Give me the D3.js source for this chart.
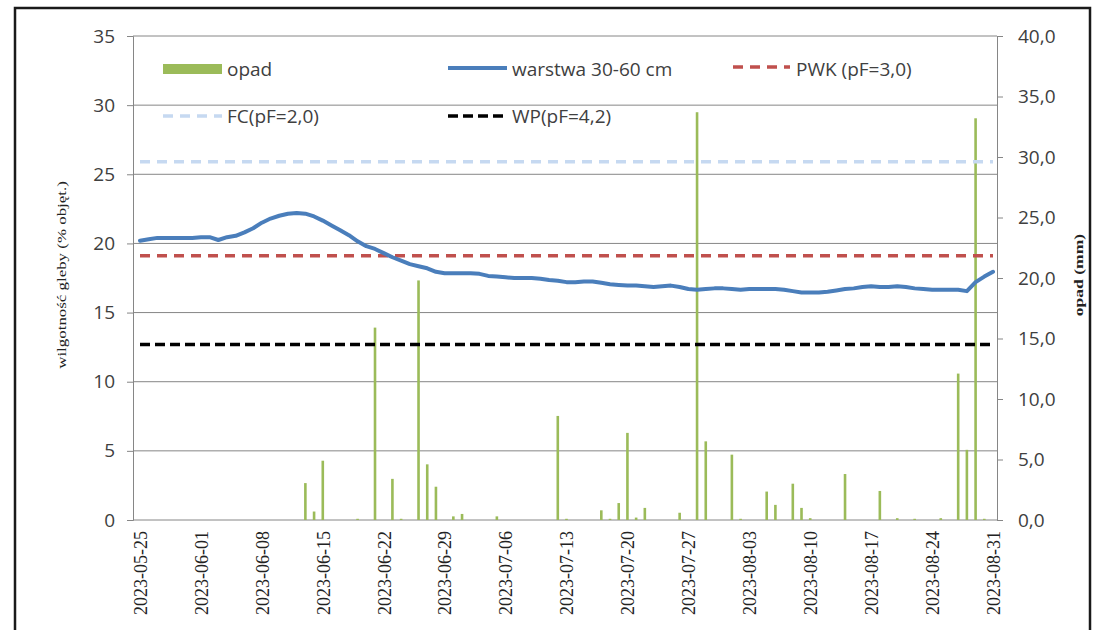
<!DOCTYPE html>
<html>
<head>
<meta charset="utf-8">
<script src="https://cdn.jsdelivr.net/npm/d3@7"></script>
<style>
  body { margin: 0; background: #fff; }
  svg { display: block; }
</style>
</head>
<body>
<svg id="chart" width="1097" height="630"></svg>
<script>
// dni pomiarowe 2023-05-25 .. 2023-08-31
var startDay = "2023-05-25", endDay = "2023-08-31";
var tickDays = ["2023-05-25","2023-06-01","2023-06-08","2023-06-15","2023-06-22","2023-06-29","2023-07-06",
  "2023-07-13","2023-07-20","2023-07-27","2023-08-03","2023-08-10","2023-08-17","2023-08-24","2023-08-31"];

// wilgotnosc gleby, warstwa 30-60 cm (% obj.)
var warstwa = [
  20.2,20.3,20.4,20.4,20.4,20.4,20.4,20.45,20.45,20.25,
  20.45,20.55,20.8,21.1,21.5,21.8,22.0,22.15,22.2,22.15,
  21.95,21.65,21.3,20.95,20.6,20.15,19.8,19.6,19.3,19.0,
  18.75,18.5,18.35,18.2,17.95,17.85,17.85,17.85,17.85,17.8,
  17.65,17.6,17.55,17.5,17.5,17.5,17.45,17.35,17.3,17.2,
  17.2,17.25,17.25,17.15,17.05,17.0,16.95,16.95,16.9,16.85,
  16.9,16.95,16.85,16.7,16.65,16.7,16.75,16.75,16.7,16.65,
  16.7,16.7,16.7,16.7,16.65,16.55,16.45,16.45,16.45,16.5,
  16.6,16.7,16.75,16.85,16.9,16.85,16.85,16.9,16.85,16.75,
  16.7,16.65,16.65,16.65,16.65,16.55,17.2,17.6,17.95
];

// opad dobowy (mm)
var opad = [
  0,0,0,0,0,0,0,0,0,0,
  0,0,0,0,0,0,0,0,0,3.05,
  0.7,4.9,0,0,0,0.1,0,15.9,0,3.4,
  0.1,0,19.8,4.6,2.75,0,0.3,0.5,0,0,
  0,0.3,0,0,0,0,0,0,8.6,0.1,
  0,0,0,0.8,0.1,1.4,7.2,0.2,1.0,0,
  0,0,0.6,0,33.7,6.5,0,0,5.4,0.1,
  0,0,2.35,1.25,0,3.0,1.0,0.15,0,0,
  0,3.8,0,0,0,2.4,0,0.15,0,0.1,
  0,0,0.15,0,12.1,5.8,33.2,0.1,0
];

// progi wilgotnosci
var FC = 25.9, PWK = 19.1, WP = 12.7;

var leftTicks = [0,5,10,15,20,25,30,35];
var rightTicks = [0,5,10,15,20,25,30,35,40];

var parse = d3.utcParse("%Y-%m-%d");
var days = d3.utcDay.range(parse(startDay), d3.utcDay.offset(parse(endDay), 1));

var svg = d3.select("#chart");
var pLeft = 133, pRight = 997, pTop = 36, pBottom = 520;

var x = d3.scaleUtc().domain([parse(startDay), parse(endDay)]).range([140, 993]);
var y = d3.scaleLinear().domain([0, 35]).range([pBottom, pTop]);
var y2 = d3.scaleLinear().domain([0, 40]).range([pBottom, pTop]);

var grey = "#868686", txt = "#404040";
var sans = "'Open Sans', sans-serif", serif = "'Liberation Serif', 'Times New Roman', serif";

// ramka
svg.append("rect").attr("x", 15).attr("y", 8).attr("width", 1075).attr("height", 640)
  .attr("fill", "none").attr("stroke", "#1a1a1a").attr("stroke-width", 2.5);

// siatka
svg.append("g").selectAll("line").data(leftTicks.slice(1)).join("line")
  .attr("x1", pLeft).attr("x2", pRight)
  .attr("y1", d => y(d)).attr("y2", d => y(d))
  .attr("stroke", grey).attr("stroke-width", 1);

// lewa os
var gl = svg.append("g").attr("transform", "translate(" + pLeft + ",0)")
  .call(d3.axisLeft(y).tickValues(leftTicks).tickSize(6).tickPadding(12).tickFormat(d3.format("d")));
gl.select(".domain").attr("stroke", grey);
gl.selectAll(".tick line").attr("stroke", grey);
gl.selectAll("text").attr("font-family", sans).attr("font-size", 19).attr("fill", txt);

// prawa os
var gr = svg.append("g").attr("transform", "translate(" + pRight + ",0)")
  .call(d3.axisRight(y2).tickValues(rightTicks).tickSize(6).tickPadding(15)
    .tickFormat(d => d3.format(".1f")(d).replace(".", ",")));
gr.select(".domain").attr("stroke", grey);
gr.selectAll(".tick line").attr("stroke", grey);
gr.selectAll("text").attr("font-family", sans).attr("font-size", 19).attr("fill", txt);

// os X
var gx = svg.append("g").attr("transform", "translate(0," + pBottom + ")")
  .call(d3.axisBottom(x).tickValues(tickDays.map(parse)).tickSize(0).tickFormat(d3.utcFormat("%Y-%m-%d")));
gx.select(".domain").attr("stroke", grey).attr("d", "M" + pLeft + ",0H" + pRight);
gx.selectAll("text")
  .attr("font-family", serif).attr("font-size", 18).attr("fill", "#222")
  .attr("text-anchor", "end").attr("dy", "0.35em")
  .attr("transform", "translate(0,11) rotate(-90)")
  .attr("x", 0).attr("y", 0);

// opad - slupki
svg.append("g").selectAll("rect").data(days.map((d, i) => ({ d: d, v: opad[i] })).filter(p => p.v > 0)).join("rect")
  .attr("x", p => x(p.d) - 1.3).attr("width", 2.6)
  .attr("y", p => y2(p.v)).attr("height", p => pBottom - y2(p.v))
  .attr("fill", "#9BBB59");

// progi
function hline(val, color, dash, w) {
  svg.append("path")
    .datum(days)
    .attr("d", d3.line().x(d => x(d)).y(() => y(val)))
    .attr("fill", "none").attr("stroke", color).attr("stroke-width", w)
    .attr("stroke-dasharray", dash);
}
hline(FC, "#C6D9F1", "10,7", 3.5);
hline(PWK, "#C0504D", "10,7", 3.5);
hline(WP, "#000000", "10,5", 3.5);

// warstwa 30-60 cm
svg.append("path")
  .datum(days.map((d, i) => ({ d: d, v: warstwa[i] })))
  .attr("d", d3.line().x(p => x(p.d)).y(p => y(p.v)))
  .attr("fill", "none").attr("stroke", "#4A7EBB").attr("stroke-width", 4)
  .attr("stroke-linejoin", "round").attr("stroke-linecap", "round");

// legenda
var leg = svg.append("g").attr("font-family", sans).attr("font-size", 19).attr("fill", txt);
leg.append("rect").attr("x", 163).attr("y", 64).attr("width", 59).attr("height", 10).attr("fill", "#9BBB59");
leg.append("text").attr("x", 227).attr("y", 76).text("opad");
leg.append("line").attr("x1", 448).attr("x2", 507).attr("y1", 68).attr("y2", 68)
  .attr("stroke", "#4A7EBB").attr("stroke-width", 4);
leg.append("text").attr("x", 512).attr("y", 76).text("warstwa 30-60 cm");
leg.append("line").attr("x1", 733).attr("x2", 790).attr("y1", 67).attr("y2", 67)
  .attr("stroke", "#C0504D").attr("stroke-width", 3.5).attr("stroke-dasharray", "10,7");
leg.append("text").attr("x", 796).attr("y", 76).text("PWK (pF=3,0)");
leg.append("line").attr("x1", 163).attr("x2", 222).attr("y1", 116).attr("y2", 116)
  .attr("stroke", "#C6D9F1").attr("stroke-width", 3.5).attr("stroke-dasharray", "10,7");
leg.append("text").attr("x", 227).attr("y", 123).text("FC(pF=2,0)");
leg.append("line").attr("x1", 448).attr("x2", 507).attr("y1", 116).attr("y2", 116)
  .attr("stroke", "#000").attr("stroke-width", 3.5).attr("stroke-dasharray", "10,5");
leg.append("text").attr("x", 512).attr("y", 123).text("WP(pF=4,2)");

// tytuly osi
svg.append("text")
  .attr("transform", "translate(66,275) rotate(-90) scale(1.3,1)")
  .attr("text-anchor", "middle").attr("font-family", serif).attr("font-size", 13)
  .attr("fill", "#222").text("wilgotność gleby (% objęt.)");
svg.append("text")
  .attr("transform", "translate(1083,275) rotate(-90) scale(1.35,1)")
  .attr("text-anchor", "middle").attr("font-family", serif).attr("font-size", 13)
  .attr("font-weight", "bold").attr("fill", "#222").text("opad (mm)");
</script>
</body>
</html>
